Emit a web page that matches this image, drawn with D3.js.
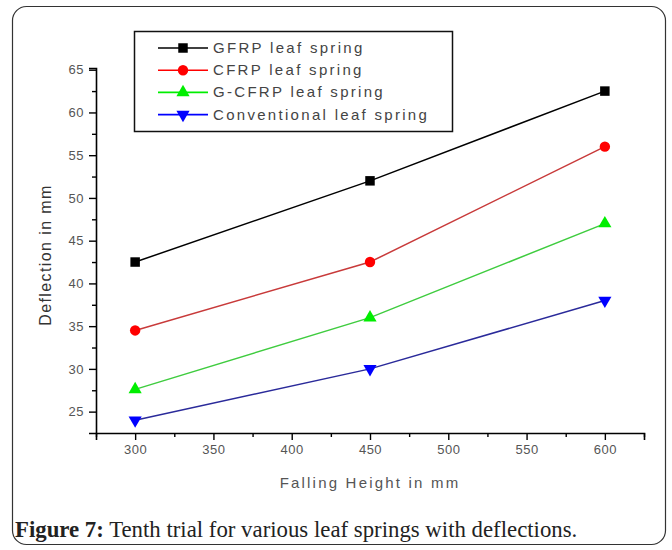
<!DOCTYPE html>
<html>
<head>
<meta charset="utf-8">
<script src="https://cdn.jsdelivr.net/npm/d3@7"></script>
<style>
    body { margin: 0; background: #fff; }
    svg { display: block; }
</style>
</head>
<body>
<div id="chart"></div>
<script>
'use strict';

// data
var heights = [300, 450, 600];
var gfrp = [42.5, 52, 62.5];
var cfrp = [34.5, 42.5, 56];
var gcfrp = [27.6, 36, 47];
var conventional = [24, 30, 38];

var seriesNames = ['GFRP leaf spring', 'CFRP leaf spring', 'G-CFRP leaf spring', 'Conventional leaf spring'];
var xTicks = [300, 350, 400, 450, 500, 550, 600];
var yTicks = [25, 30, 35, 40, 45, 50, 55, 60, 65];

var moduleChart = (function() {

    var width = 672,
        height = 550;

    var series = [
        { name: seriesNames[0], values: gfrp, color: '#000000', line: '#000000', symbol: d3.symbolSquare, size: 90, rot: 0 },
        { name: seriesNames[1], values: cfrp, color: '#ff0000', line: '#c83a3a', symbol: d3.symbolCircle, size: 85, rot: 0 },
        { name: seriesNames[2], values: gcfrp, color: '#00ee00', line: '#3fcc3f', symbol: d3.symbolTriangle, size: 75, rot: 0 },
        { name: seriesNames[3], values: conventional, color: '#0000ff', line: '#2a2a9a', symbol: d3.symbolTriangle, size: 75, rot: 180 }
    ];

    var svg = d3.select('#chart').append('svg')
        .attr('width', width)
        .attr('height', height);

    var x = d3.scaleLinear().domain([275, 625]).range([96, 644]);
    var y = d3.scaleLinear().domain([22.5, 65.2]).range([433, 68]);

    var init = function() {
        // frame of the figure
        svg.append('rect')
            .attr('x', 12.5).attr('y', 6.5)
            .attr('width', 653).attr('height', 538)
            .attr('rx', 14).attr('ry', 14)
            .attr('fill', 'none')
            .attr('stroke', '#333')
            .attr('stroke-width', 1.2);

        var xAxis = d3.axisBottom(x)
            .tickValues(d3.range(275, 626, 25))
            .tickSize(7)
            .tickFormat(function(d) { return xTicks.indexOf(d) >= 0 ? d : ''; });

        var yAxis = d3.axisLeft(y)
            .tickValues(d3.range(25, 65.1, 2.5))
            .tickSize(7)
            .tickFormat(function(d) { return yTicks.indexOf(d) >= 0 ? d : ''; });

        var gx = svg.append('g')
            .attr('transform', 'translate(0,' + y.range()[0] + ')')
            .call(xAxis);

        var gy = svg.append('g')
            .attr('transform', 'translate(' + x.range()[0] + ',0)')
            .call(yAxis);

        [gx, gy].forEach(function(g) {
            g.select('.domain').attr('stroke', '#000').attr('stroke-width', 1.6);
            g.selectAll('.tick line').attr('stroke', '#000').attr('stroke-width', 1.4);
            g.selectAll('.tick text')
                .attr('fill', '#555')
                .style('font-family', 'Liberation Sans, Arial, sans-serif')
                .style('font-size', '13px')
                .style('letter-spacing', '0.5px');
        });

        // minor ticks shorter
        gx.selectAll('.tick').filter(function(d) { return xTicks.indexOf(d) < 0; })
            .select('line').attr('y2', 4);
        gy.selectAll('.tick').filter(function(d) { return yTicks.indexOf(d) < 0; })
            .select('line').attr('x2', -4);

        gx.selectAll('.tick text').attr('y', 12);
        gy.selectAll('.tick text').attr('x', -12);

        // axis titles
        svg.append('text')
            .attr('x', 370).attr('y', 488)
            .attr('text-anchor', 'middle')
            .attr('fill', '#555')
            .style('font-family', 'Liberation Sans, Arial, sans-serif')
            .style('font-size', '15px')
            .style('letter-spacing', '2.2px')
            .text('Falling Height in mm');

        svg.append('text')
            .attr('transform', 'translate(51,255) rotate(-90)')
            .attr('text-anchor', 'middle')
            .attr('fill', '#333')
            .style('font-family', 'Liberation Sans, Arial, sans-serif')
            .style('font-size', '16px')
            .style('letter-spacing', '1.4px')
            .text('Deflection in mm');

        var line = d3.line()
            .x(function(d, i) { return x(heights[i]); })
            .y(function(d) { return y(d); });

        var groups = svg.selectAll('g.series')
            .data(series)
            .enter()
            .append('g')
            .attr('class', 'series');

        groups.append('path')
            .attr('d', function(s) { return line(s.values); })
            .attr('fill', 'none')
            .attr('stroke', function(s) { return s.line; })
            .attr('stroke-width', 1.5);

        groups.selectAll('path.pt')
            .data(function(s) {
                return s.values.map(function(v, i) { return { s: s, v: v, h: heights[i] }; });
            })
            .enter()
            .append('path')
            .attr('class', 'pt')
            .attr('d', function(d) { return d3.symbol().type(d.s.symbol).size(d.s.size)(); })
            .attr('transform', function(d) {
                return 'translate(' + x(d.h) + ',' + y(d.v) + ') rotate(' + d.s.rot + ')';
            })
            .attr('fill', function(d) { return d.s.color; });

        // legend
        var legend = svg.append('g');
        legend.append('rect')
            .attr('x', 134.5).attr('y', 31.5)
            .attr('width', 318).attr('height', 100)
            .attr('fill', '#fff')
            .attr('stroke', '#111')
            .attr('stroke-width', 1.5);

        var items = legend.selectAll('g.item')
            .data(series)
            .enter()
            .append('g')
            .attr('class', 'item')
            .attr('transform', function(d, i) { return 'translate(0,' + (48 + i * 22.2) + ')'; });

        items.append('line')
            .attr('x1', 158).attr('x2', 208)
            .attr('stroke', function(d) { return d.line === '#000000' ? '#000' : d.color; })
            .attr('stroke-width', 1.6);

        items.append('path')
            .attr('d', function(d) { return d3.symbol().type(d.symbol).size(d.size)(); })
            .attr('transform', function(d) { return 'translate(183,0) rotate(' + d.rot + ')'; })
            .attr('fill', function(d) { return d.color; });

        items.append('text')
            .attr('x', 213).attr('y', 5)
            .attr('fill', '#444')
            .style('font-family', 'Liberation Sans, Arial, sans-serif')
            .style('font-size', '15px')
            .style('letter-spacing', '2.3px')
            .text(function(d) { return d.name; });

        // caption
        var caption = svg.append('text')
            .attr('x', 15).attr('y', 537)
            .attr('fill', '#222')
            .style('font-family', 'Liberation Serif, Times New Roman, serif')
            .style('font-size', '22.8px');
        caption.append('tspan').attr('font-weight', 'bold').text('Figure 7:');
        caption.append('tspan').text(' Tenth trial for various leaf springs with deflections.');
    };

    return {
        init: init
    };
})();

moduleChart.init();
</script>
</body>
</html>
